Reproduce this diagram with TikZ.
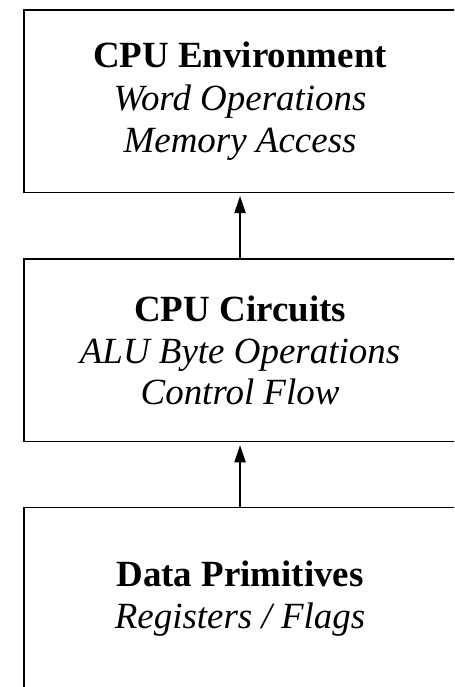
\documentclass[tikz,border=0pt]{standalone}
\usepackage{fontspec}
\setmainfont{Liberation Serif}
\usetikzlibrary{arrows.meta}

\begin{document}
\begin{tikzpicture}[>={Triangle[length=8.5pt,width=5.6pt]}]
    \tikzset{
      layer/.style={draw, line width=0.7pt, minimum width=7.56cm,
                    minimum height=3.19cm, inner sep=0pt, align=center,
                    font=\fontsize{18.4}{20.8}\selectfont},
      up/.style={->, line width=0.7pt, shorten >=1.5pt},
    }
    \useasboundingbox (0,0) rectangle (7.945,-12.02);
    \clip (0,0) rectangle (7.945,-12.02);

    \node[layer] (env)  at (4.2,-1.77)  {\textbf{CPU Environment}\\[0.5pt]
                                         \textit{Word Operations}\\
                                         \textit{Memory Access}};
    \node[layer] (circ) at (4.2,-6.13)  {\textbf{CPU Circuits}\\
                                         \textit{ALU Byte Operations}\\
                                         \textit{Control Flow}};
    \node[layer] (prim) at (4.2,-10.47) {\textbf{Data Primitives}\\
                                         \textit{Registers / Flags}};

    \draw[up] (circ) -- (env);
    \draw[up] (prim) -- (circ);
  \end{tikzpicture}
\end{document}
